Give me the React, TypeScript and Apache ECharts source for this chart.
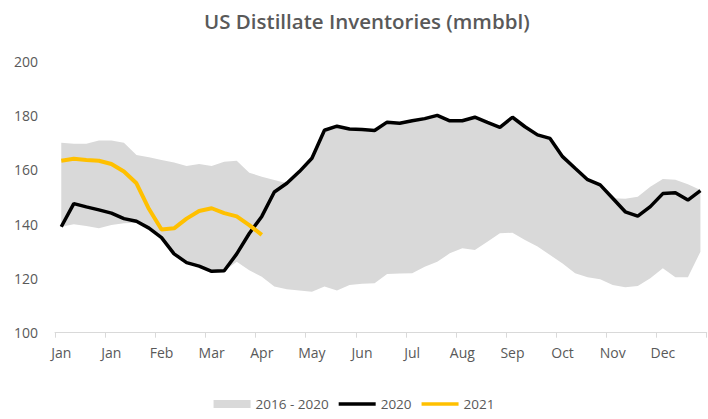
import React, { useEffect, useRef } from "react";
import * as echarts from "echarts";

const weeks: string[] = Array.from({ length: 52 }, (_, i) => `W${i + 1}`);
const monthLabels = ["Jan", "Jan", "Feb", "Mar", "Apr", "May", "Jun", "Jul", "Aug", "Sep", "Oct", "Nov", "Dec"];

const series2020 = [
  139, 147.5, 146.3, 145.2, 144, 142, 141, 138.5, 135, 129, 125.8, 124.5, 122.6,
  122.8, 129, 136.5, 142.8, 151.8, 155, 159.3, 164.2, 174.5, 176, 175, 174.8, 174.4,
  177.5, 177.1, 178, 178.8, 180, 178, 178, 179.3, 177.4, 175.6, 179.3, 175.8, 172.8,
  171.5, 164.8, 160.5, 156.3, 154.4, 149.5, 144.5, 142.9, 146.4, 151.2, 151.5, 148.8, 152.3,
];

const series2021 = [
  163.3, 164, 163.6, 163.3, 162.1, 159.3, 155, 145.5, 138, 138.4, 142, 144.8, 145.8,
  144, 142.8, 139.6, 136,
];

const rangeMin = [
  139, 139.9, 139.3, 138.4, 139.6, 140.3, 140.5, 138.5, 135, 129, 125.8, 124.5, 122.6,
  122.7, 126.1, 123, 120.6, 117, 116, 115.5, 115.1, 117, 115.5, 117.6, 118, 118.2,
  121.6, 121.8, 121.9, 124.3, 126.1, 129.2, 131.1, 130.4, 133.5, 136.6, 136.8, 134.1, 131.7,
  128.6, 125.5, 121.9, 120.4, 119.7, 117.6, 116.7, 117.2, 120, 123.7, 120.4, 120.4, 129.8,
];

const rangeMax = [
  169.9, 169.5, 169.5, 170.7, 170.7, 169.9, 165.4, 164.6, 163.6, 162.6, 161.4, 162.1, 161.4,
  162.9, 163.3, 158.9, 157.4, 156.2, 155, 159.3, 164.2, 174.5, 176, 175, 174.8, 174.4,
  177.5, 177.1, 178, 178.8, 180, 178, 178, 179.3, 177.4, 175.6, 179.3, 175.8, 172.8,
  171.5, 164.8, 160.5, 156.3, 154.4, 149.5, 149.3, 150, 153.7, 156.6, 156.3, 154.6, 152.5,
];

const FONT = "'Open Sans', sans-serif";
const TEXT = "#595959";
const LINE_ICON = "path://M0,0 L37,0 L37,3.6 L0,3.6 Z";

export default function App() {
  const ref = useRef<HTMLDivElement>(null);
  useEffect(() => {
    if (!ref.current) return;
    const chart = echarts.init(ref.current, undefined, { renderer: "svg" });
    const bandSpan = rangeMax.map((v, i) => +(v - rangeMin[i]).toFixed(2));
    chart.setOption({
      animation: false,
      title: {
        text: "US Distillate Inventories (mmbbl)",
        left: 199,
        top: 5,
        textStyle: { fontFamily: FONT, fontSize: 20.5, fontWeight: 600, color: TEXT },
      },
      grid: { left: 55, right: 1.3, top: 61, bottom: 86.3, containLabel: false },
      legend: {
        bottom: 3,
        left: "center",
        itemWidth: 37,
        itemHeight: 8,
        itemGap: 10,
        symbolKeepAspect: true,
        textStyle: { fontFamily: FONT, fontSize: 13.5, color: TEXT },
        data: [
          { name: "2016 - 2020", icon: "rect" },
          { name: "2020", icon: LINE_ICON },
          { name: "2021", icon: LINE_ICON },
        ],
      },
      xAxis: {
        type: "category",
        data: weeks,
        boundaryGap: true,
        axisLine: { show: true, lineStyle: { color: "#d9d9d9", width: 1 } },
        axisTick: { show: true, interval: 3, length: 5, lineStyle: { color: "#d9d9d9" } },
        axisLabel: {
          interval: 3,
          margin: 13,
          fontFamily: FONT,
          fontSize: 14,
          color: TEXT,
          formatter: (_v: string, i: number) => monthLabels[i / 4] ?? "",
        },
        splitLine: { show: false },
      },
      yAxis: {
        type: "value",
        min: 100,
        max: 200,
        interval: 20,
        axisLine: { show: false },
        axisTick: { show: false },
        splitLine: { show: false },
        axisLabel: { fontFamily: FONT, fontSize: 14, color: TEXT, margin: 17 },
      },
      series: [
        {
          name: "bandBase",
          type: "line",
          stack: "band",
          data: rangeMin,
          symbol: "none",
          lineStyle: { opacity: 0 },
          silent: true,
        },
        {
          name: "2016 - 2020",
          type: "line",
          stack: "band",
          data: bandSpan,
          symbol: "none",
          lineStyle: { opacity: 0, width: 0 },
          itemStyle: { color: "#d9d9d9" },
          areaStyle: { color: "#d9d9d9", opacity: 1 },
        },
        {
          name: "2020",
          type: "line",
          data: series2020,
          symbol: "none",
          itemStyle: { color: "#000000" },
          lineStyle: { color: "#000000", width: 3.5 },
        },
        {
          name: "2021",
          type: "line",
          data: series2021,
          symbol: "none",
          itemStyle: { color: "#FFC000" },
          lineStyle: { color: "#FFC000", width: 4 },
        },
      ],
    });
    return () => chart.dispose();
  }, []);
  return <div ref={ref} style={{ width: 708, height: 419, position: "absolute", left: 0, top: 0 }} />;
}
